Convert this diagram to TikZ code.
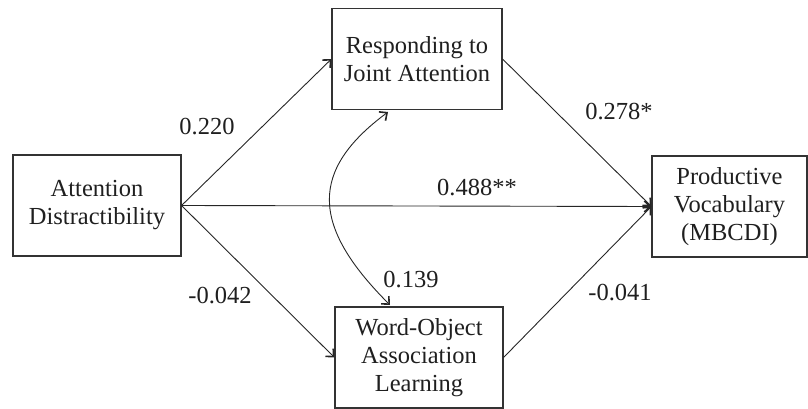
\documentclass[tikz,border=0pt]{standalone}
\usepackage{fontspec}
\setmainfont{Liberation Serif}
\usetikzlibrary{arrows.meta}
\begin{document}
\begin{tikzpicture}[x=1pt,y=-1pt,
  box/.style={draw=black!80,line width=1.1pt,minimum height=101pt,align=center,inner sep=0pt,
    text=black!88,font=\fontsize{24.5}{28}\selectfont},
  lbl/.style={text=black!88,font=\fontsize{24.5}{28}\selectfont,inner sep=0pt},
  arr/.style={line width=0.9pt,draw=black!85,-{Straight Barb[length=6pt,width=11pt,line width=1.6pt]}},
  barr/.style={line width=0.9pt,draw=black!85,{Straight Barb[length=6pt,width=11pt,line width=1.6pt]}-{Straight Barb[length=6pt,width=11pt,line width=1.6pt]}}]
\useasboundingbox (0,0) rectangle (808,409);
\node[box,minimum width=170pt] (rja) at (417,59) {Responding to\\Joint Attention};
\node[box,minimum width=168pt] (ad) at (97,205.5) {Attention\\Distractibility};
\node[box,minimum width=155pt] (pv) at (729.5,206.5) {Productive\\Vocabulary\\(MBCDI)};
\node[box,minimum width=168pt] (wo) at (419,357.5) {Word-Object\\Association\\Learning};
\draw[arr] (ad.east) -- (rja.west);
\draw[arr] (ad.east) -- (wo.west);
\draw[arr] (ad.east) -- (pv.west);
\draw[arr] (rja.east) -- (pv.west);
\draw[arr] (wo.east) -- (pv.west);
\coordinate (ct) at (388,112);
\coordinate (cb) at (390,305);
\draw[barr] (ct) .. controls (310,170) and (310,225) .. (cb);
\node[lbl] (l1) at (207,127) {0.220};
\node[lbl] (l2) at (220,296) {-0.042};
\node[lbl] (l3) at (477,188) {0.488**};
\node[lbl] (l4) at (619,112) {0.278*};
\node[lbl] (l5) at (411,280) {0.139};
\node[lbl] (l6) at (620,293) {-0.041};
\end{tikzpicture}
\end{document}
